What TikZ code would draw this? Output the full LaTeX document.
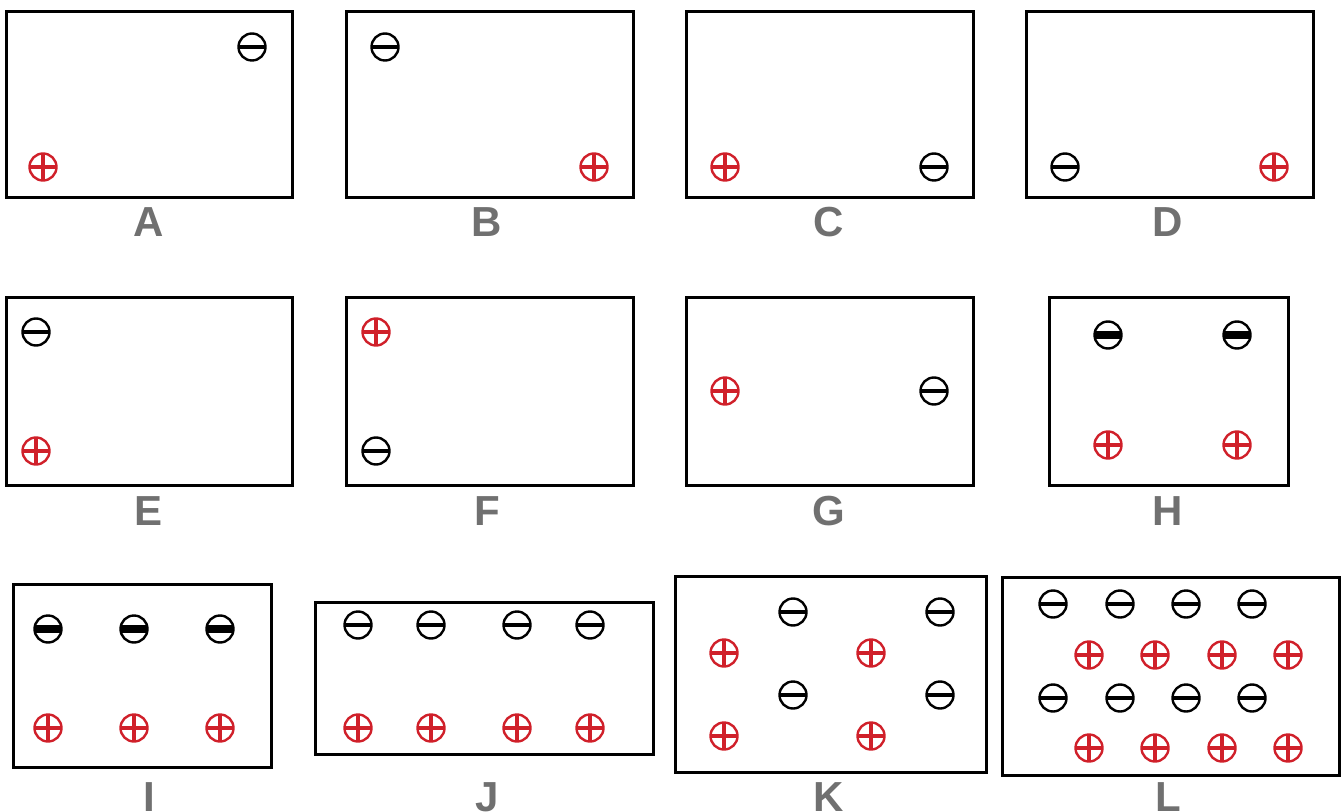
\documentclass[tikz,border=0pt]{standalone}
\usepackage{fontspec}
\setmainfont{Liberation Sans}
\definecolor{polered}{HTML}{D0202A}
\definecolor{labelgray}{HTML}{707070}
\tikzset{
  boxline/.style={line width=1.5pt},
  negpole/.style={circle, draw, line width=1.2pt, minimum size=13.5pt, inner sep=0pt,
    path picture={\draw[line width=2.2pt] (path picture bounding box.west) -- (path picture bounding box.east);}},
  negthick/.style={circle, draw, line width=1.2pt, minimum size=13.5pt, inner sep=0pt,
    path picture={\draw[line width=4pt] (path picture bounding box.west) -- (path picture bounding box.east);}},
  pospole/.style={circle, draw=polered, line width=1.2pt, minimum size=13.5pt, inner sep=0pt,
    path picture={\draw[polered, line width=2.2pt] (path picture bounding box.west) -- (path picture bounding box.east)
      (path picture bounding box.north) -- (path picture bounding box.south);}},
  boxlabel/.style={text=labelgray, font=\bfseries\fontsize{21}{21}\selectfont, anchor=base, inner sep=0pt}
}
\begin{document}
\begin{tikzpicture}[x=0.5pt, y=-0.5pt]
    \useasboundingbox (0,0) rectangle (1342,812);

    % Row one
    \draw[boxline] (6,12) rectangle (292,198);
    \node[negpole] (A-neg) at (252,47) {};
    \node[pospole] (A-pos) at (43,167) {};
    \node[boxlabel] (A-lab) at (149,237) {A};

    \draw[boxline] (346,12) rectangle (633,198);
    \node[negpole] (B-neg) at (385,47) {};
    \node[pospole] (B-pos) at (594,167) {};
    \node[boxlabel] (B-lab) at (487,237) {B};

    \draw[boxline] (686,12) rectangle (973,198);
    \node[pospole] (C-pos) at (725,167) {};
    \node[negpole] (C-neg) at (934,167) {};
    \node[boxlabel] (C-lab) at (829,237) {C};

    \draw[boxline] (1026,12) rectangle (1313,198);
    \node[negpole] (D-neg) at (1065,167) {};
    \node[pospole] (D-pos) at (1274,167) {};
    \node[boxlabel] (D-lab) at (1168,237) {D};

    % Row two
    \draw[boxline] (6,298) rectangle (292,485);
    \node[negpole] (E-neg) at (36,332) {};
    \node[pospole] (E-pos) at (36,451) {};
    \node[boxlabel] (E-lab) at (149,525) {E};

    \draw[boxline] (346,298) rectangle (633,485);
    \node[pospole] (F-pos) at (376,332) {};
    \node[negpole] (F-neg) at (376,451) {};
    \node[boxlabel] (F-lab) at (487,525) {F};

    \draw[boxline] (686,298) rectangle (973,485);
    \node[pospole] (G-pos) at (725,391) {};
    \node[negpole] (G-neg) at (934,391) {};
    \node[boxlabel] (G-lab) at (829,525) {G};

    \draw[boxline] (1049,298) rectangle (1288,485);
    \foreach \x [count=\i] in {1108,1237} {
        \node[negthick] (H-neg\i) at (\x,335) {};
        \node[pospole] (H-pos\i) at (\x,445) {};
    }
    \node[boxlabel] (H-lab) at (1168,525) {H};

    % Row three
    \draw[boxline] (13,584) rectangle (271,767);
    \foreach \x [count=\i] in {48,134,220} {
        \node[negthick] (I-neg\i) at (\x,629) {};
        \node[pospole] (I-pos\i) at (\x,728) {};
    }
    \node[boxlabel] (I-lab) at (149,811) {I};

    \draw[boxline] (315,602) rectangle (653,754);
    \foreach \x [count=\i] in {358,431,517,590} {
        \node[negpole] (J-neg\i) at (\x,625) {};
        \node[pospole] (J-pos\i) at (\x,728) {};
    }
    \node[boxlabel] (J-lab) at (487,811) {J};

    \draw[boxline] (675,576) rectangle (986,772);
    \foreach \x [count=\i] in {793,940} {
        \node[negpole] (K-negA\i) at (\x,612) {};
        \node[negpole] (K-negB\i) at (\x,695) {};
    }
    \foreach \x [count=\i] in {724,871} {
        \node[pospole] (K-posA\i) at (\x,653) {};
        \node[pospole] (K-posB\i) at (\x,736) {};
    }
    \node[boxlabel] (K-lab) at (829,811) {K};

    \draw[boxline] (1002,577) rectangle (1339,775);
    \foreach \x [count=\i] in {1053,1120,1186,1252} {
        \node[negpole] (L-negA\i) at (\x,604) {};
        \node[negpole] (L-negB\i) at (\x,698) {};
    }
    \foreach \x [count=\i] in {1089,1155,1222,1288} {
        \node[pospole] (L-posA\i) at (\x,655) {};
        \node[pospole] (L-posB\i) at (\x,748) {};
    }
    \node[boxlabel] (L-lab) at (1168,811) {L};
\end{tikzpicture}
\end{document}
